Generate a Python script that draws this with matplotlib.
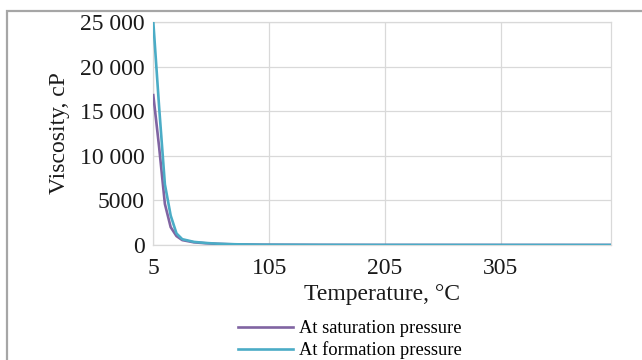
import matplotlib
matplotlib.use("Agg")
import matplotlib.pyplot as plt
from matplotlib.patches import Rectangle

plt.rcParams['font.family'] = ['Liberation Serif', 'DejaVu Serif']

temperature = [5, 10, 15, 20, 25, 30, 40, 50, 60, 70, 80, 100, 150, 200, 300, 400]
visc_saturation = [16800, 11000, 4600, 2000, 1000, 550, 300, 200, 130, 90, 60, 30, 12, 6, 3, 2]
visc_formation = [25000, 15500, 6800, 3300, 1300, 650, 350, 230, 150, 100, 70, 35, 15, 8, 4, 2]

x_ticks = [5, 105, 205, 305]
y_ticks = [0, 5000, 10000, 15000, 20000, 25000]
y_tick_labels = ['0', '5000', '10 000', '15 000', '20 000', '25 000']

series_names = ['At saturation pressure', 'At formation pressure']
colors = ['#8064A2', '#4BACC6']

fig = plt.figure(figsize=(6.42, 3.60), dpi=100)
# outer grey frame (cropped on right and bottom)
fig.patches.append(Rectangle((6.5/642, -0.05), 1.0, 1 - 11/360 + 0.05,
                             transform=fig.transFigure, fill=False,
                             edgecolor='#a6a6a6', linewidth=1.6, zorder=0))

ax = fig.add_axes([153.3/642, 1 - 245/360, (611 - 153.3)/642, (245 - 22)/360])
ax.plot(temperature, visc_saturation, color=colors[0], lw=1.9, label=series_names[0], zorder=3)
ax.plot(temperature, visc_formation, color=colors[1], lw=1.9, label=series_names[1], zorder=4)

ax.set_xlim(5, 400)
ax.set_ylim(0, 25000)
ax.set_xticks(x_ticks)
ax.set_xticklabels([str(t) for t in x_ticks])
ax.set_yticks(y_ticks)
ax.set_yticklabels(y_tick_labels)
ax.tick_params(axis='both', length=0, labelsize=17, colors='#1a1a1a')
ax.tick_params(axis='y', pad=6)
ax.tick_params(axis='x', pad=9)
ax.grid(True, color='#d9d9d9', lw=0.9)
ax.set_axisbelow(True)
for s in ax.spines.values():
    s.set_color('#d9d9d9')
    s.set_linewidth(0.9)

ax.set_xlabel('Temperature, °C', fontsize=17, color='#1a1a1a', labelpad=4)
ax.set_ylabel('Viscosity, cP', fontsize=17, color='#1a1a1a', labelpad=7)

fig.legend(loc='center', bbox_to_anchor=(0.545, 1 - 339.5/360), ncol=1, frameon=False,
           fontsize=13.3, handlelength=3.0, handletextpad=0.35, labelspacing=0.22,
           borderaxespad=0)

fig.savefig('out.png', dpi=100)
